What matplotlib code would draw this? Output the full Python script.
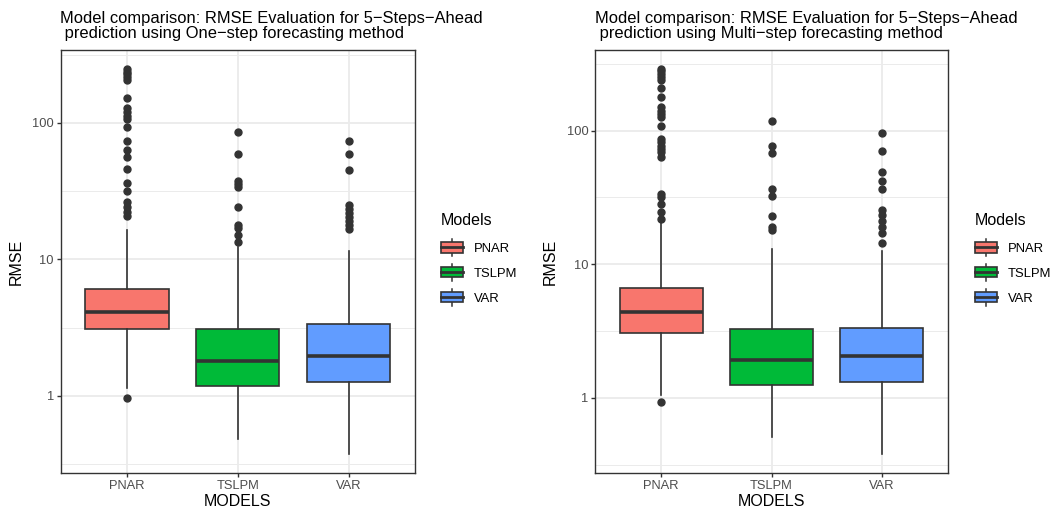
import matplotlib
matplotlib.use("Agg")
import matplotlib.pyplot as plt
import numpy as np
from matplotlib.legend_handler import HandlerBase
from matplotlib.patches import Patch, Rectangle
from matplotlib.lines import Line2D
from matplotlib.ticker import NullFormatter

plt.rcParams["font.family"] = ["Liberation Sans", "DejaVu Sans"]

MODELS = ["PNAR", "TSLPM", "VAR"]
COLORS = ["#F8766D", "#00BA38", "#619CFF"]

# ── One-step forecasting: box statistics per model ────────────────────────
ONE_Q1 = [3.07, 1.19, 1.27]
ONE_MED = [4.12, 1.79, 1.95]
ONE_Q3 = [6.11, 3.07, 3.34]
ONE_WHISLO = [1.15, 0.483, 0.377]
ONE_WHISHI = [16.3, 12.3, 11.6]
ONE_FLIERS_PNAR = [0.97, 20.9, 22.1, 24.1, 26.2, 31.9, 36.1, 46.1, 55.8, 63.0,
                   73.0, 93.5, 106, 112, 119, 129, 153, 205, 217, 226, 237, 246.7]
ONE_FLIERS_TSLPM = [13.4, 15.0, 17.0, 17.9, 24.0, 34.1, 35.7, 37.7, 58.7, 86.0]
ONE_FLIERS_VAR = [16.8, 17.7, 19.0, 20.4, 21.8, 23.4, 25.2, 45.2, 58.7, 73.0]

# ── Multi-step forecasting: box statistics per model ──────────────────────
MULTI_Q1 = [3.05, 1.25, 1.32]
MULTI_MED = [4.36, 1.91, 2.05]
MULTI_Q3 = [6.65, 3.26, 3.35]
MULTI_WHISLO = [1.05, 0.514, 0.382]
MULTI_WHISHI = [20.2, 12.9, 12.6]
MULTI_FLIERS_PNAR = [0.93, 21.9, 24.6, 28.4, 31.8, 33.7, 64.0, 68.9, 73.0, 77.3,
                     81.8, 86.7, 109, 126, 133, 141, 149, 179, 210, 239, 253,
                     265, 277, 288]
MULTI_FLIERS_TSLPM = [17.9, 19.0, 22.9, 32.7, 36.7, 67.7, 77.3, 119]
MULTI_FLIERS_VAR = [14.4, 17.1, 19.0, 21.1, 23.2, 25.3, 36.7, 41.9, 48.8, 70.1, 96.1]

TITLE_ONE = ("Model comparison: RMSE Evaluation for 5\u2212Steps\u2212Ahead\n"
             " prediction using One\u2212step forecasting method")
TITLE_MULTI = ("Model comparison: RMSE Evaluation for 5\u2212Steps\u2212Ahead\n"
               " prediction using Multi\u2212step forecasting method")

INK = "#333333"
GRID = "#EBEBEB"
TEXT = "#4D4D4D"


class BoxKey(HandlerBase):
    """ggplot-style boxplot legend key: box, median line and whisker stubs."""

    def create_artists(self, legend, orig_handle, xdescent, ydescent,
                       width, height, fontsize, trans):
        x0, y0 = -xdescent, -ydescent
        cx, cy = x0 + width / 2, y0 + height / 2
        bh = height * 0.6
        box = Rectangle((x0, cy - bh / 2), width, bh,
                        facecolor=orig_handle.get_facecolor(),
                        edgecolor=INK, lw=1.2, transform=trans)
        med = Line2D([x0, x0 + width], [cy, cy], color=INK, lw=2.0, transform=trans)
        w1 = Line2D([cx, cx], [y0, cy - bh / 2], color=INK, lw=1.1, transform=trans)
        w2 = Line2D([cx, cx], [cy + bh / 2, y0 + height], color=INK, lw=1.1, transform=trans)
        return [w1, w2, box, med]


def draw_panel(ax, q1, med, q3, wlo, whi, fliers, title):
    stats = [dict(q1=a, med=m, q3=b, whislo=lo, whishi=hi, fliers=f, label=n)
             for n, a, m, b, lo, hi, f in zip(MODELS, q1, med, q3, wlo, whi, fliers)]
    parts = ax.bxp(stats, positions=[1, 2, 3], widths=0.75, patch_artist=True,
                   showcaps=False,
                   boxprops=dict(edgecolor=INK, linewidth=1.2),
                   medianprops=dict(color=INK, linewidth=2.6, solid_capstyle="butt"),
                   whiskerprops=dict(color=INK, linewidth=1.2),
                   flierprops=dict(marker="o", markerfacecolor=INK,
                                   markeredgecolor=INK, markersize=5))
    for box, c in zip(parts["boxes"], COLORS):
        box.set_facecolor(c)

    # log scale with 5% expansion on each side
    ax.set_yscale("log")
    vals = np.concatenate([wlo, whi] + [np.asarray(f) for f in fliers])
    lo, hi = np.log10(vals.min()), np.log10(vals.max())
    pad = 0.05 * (hi - lo)
    ax.set_ylim(10 ** (lo - pad), 10 ** (hi + pad))
    ax.set_xlim(0.4, 3.6)

    ax.set_yticks([1, 10, 100], labels=["1", "10", "100"])
    ax.set_yticks(10 ** np.arange(-0.5, 3.0, 1.0), minor=True)
    ax.yaxis.set_minor_formatter(NullFormatter())
    ax.set_xticks([1, 2, 3], labels=MODELS)

    ax.set_axisbelow(True)
    ax.grid(which="major", color=GRID, linewidth=1.3)
    ax.grid(which="minor", axis="y", color=GRID, linewidth=0.7)
    ax.tick_params(which="major", length=3, width=1.0, color=INK,
                   labelsize=9.3, labelcolor=TEXT, pad=1.8)
    ax.tick_params(which="minor", length=0)
    for s in ax.spines.values():
        s.set_color(INK)
        s.set_linewidth(1.0)

    ax.set_title(title, loc="left", fontsize=11.9, pad=8.5, linespacing=1.02)
    ax.set_xlabel("MODELS", fontsize=11.5, labelpad=2)
    ax.set_ylabel("RMSE", fontsize=11.5, labelpad=6)


fig = plt.figure(figsize=(10.58, 5.18), dpi=100)
W, H = 1058, 518
ax1 = fig.add_axes([60.5 / W, 1 - 473 / H, 354.5 / W, 423 / H])
ax2 = fig.add_axes([595 / W, 1 - 473 / H, 353 / W, 423 / H])

draw_panel(ax1, ONE_Q1, ONE_MED, ONE_Q3, ONE_WHISLO, ONE_WHISHI,
           [ONE_FLIERS_PNAR, ONE_FLIERS_TSLPM, ONE_FLIERS_VAR], TITLE_ONE)
draw_panel(ax2, MULTI_Q1, MULTI_MED, MULTI_Q3, MULTI_WHISLO, MULTI_WHISHI,
           [MULTI_FLIERS_PNAR, MULTI_FLIERS_TSLPM, MULTI_FLIERS_VAR], TITLE_MULTI)

handles = [Patch(facecolor=c, edgecolor=INK) for c in COLORS]
for x_left in (441, 975):
    leg = fig.legend(handles, MODELS, title="Models", loc="upper left",
                     bbox_to_anchor=(x_left / W, 1 - 213 / H), frameon=False,
                     fontsize=9.4, title_fontsize=11.5, alignment="left",
                     handler_map={Patch: BoxKey()}, handlelength=1.67,
                     handleheight=1.6, labelspacing=0.62, handletextpad=0.85,
                     borderpad=0, borderaxespad=0)
    # a little more room between the legend title and the keys
    leg._legend_box.sep = 8

fig.savefig("out.png", dpi=100)
